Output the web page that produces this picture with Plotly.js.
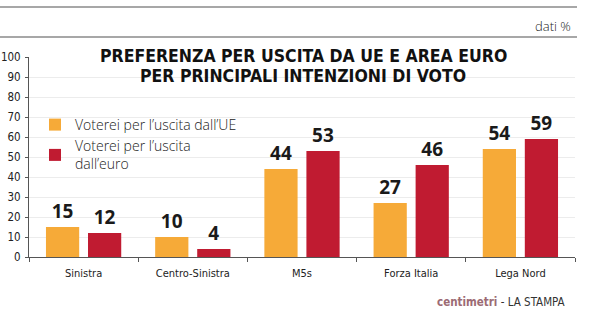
<!DOCTYPE html>
<html>
<head>
<meta charset="utf-8">
<script src="https://cdn.plot.ly/plotly-3.0.1.min.js"></script>
<style>html,body{margin:0;padding:0;background:#fff;}#chart{width:596px;height:322px;}</style>
</head>
<body>
<div id="chart"></div>
<script>
const categories = ["Sinistra", "Centro-Sinistra", "M5s", "Forza Italia", "Lega Nord"];
const seriesNames = ["Voterei per l\u2019uscita dall\u2019UE", "Voterei per l\u2019uscita<br>dall\u2019euro"];
const uscitaUE = [15, 10, 44, 27, 54];
const uscitaEuro = [12, 4, 53, 46, 59];
const yTicks = [0, 10, 20, 30, 40, 50, 60, 70, 80, 90, 100];
const titleLines = ["PREFERENZA PER USCITA DA UE E AREA EURO", "PER PRINCIPALI INTENZIONI DI VOTO"];

const condensed = "DejaVu Sans Condensed, sans-serif";
const labelFont = {family: "Open Sans, sans-serif", size: 19, color: "#1a1a1a", weight: 700};
const titleFont = {family: "DejaVu Sans Condensed, sans-serif", size: 17.5, color: "#111", weight: 700};

const traces = [
  {type: "bar", name: seriesNames[0], x: categories, y: uscitaUE,
   marker: {color: "#F6AA38"}, text: uscitaUE.map(String), textposition: "outside",
   textfont: labelFont, cliponaxis: false, hoverinfo: "none"},
  {type: "bar", name: seriesNames[1], x: categories, y: uscitaEuro,
   marker: {color: "#C01B31"}, text: uscitaEuro.map(String), textposition: "outside",
   textfont: labelFont, cliponaxis: false, hoverinfo: "none"}
];

const layout = {
  width: 596, height: 322,
  margin: {l: 29, r: 21, t: 57, b: 65},
  paper_bgcolor: "#fff", plot_bgcolor: "#fff",
  barmode: "group", bargap: 0.23, bargroupgap: 0.21,
  showlegend: true,
  legend: {x: 0.011, y: 0.74, xanchor: "left", yanchor: "top", bgcolor: "rgba(0,0,0,0)",
           font: {family: "Open Sans, sans-serif", size: 14, color: "#222", weight: 300},
           tracegroupgap: 2, itemwidth: 30},
  xaxis: {type: "category", showgrid: false, showline: true, linecolor: "#555", linewidth: 1,
          ticks: "outside", tickson: "boundaries", ticklen: 4, tickcolor: "#555", ticklabelstandoff: 6,
          tickfont: {family: condensed, size: 11, color: "#222"}, fixedrange: true},
  yaxis: {range: [0, 100], tickvals: yTicks, showgrid: true, gridcolor: "#ececec", gridwidth: 1,
          zeroline: false, showline: true, linecolor: "#555", linewidth: 1,
          ticks: "outside", ticklen: 3, tickcolor: "#555", ticklabelstandoff: 2,
          tickfont: {family: condensed, size: 11.5, color: "#222"}, fixedrange: true},
  shapes: [
    {type: "line", xref: "paper", yref: "paper", x0: -29/546, x1: 548/546, y0: 1 + 50/200, y1: 1 + 50/200,
     line: {color: "#8a8a8a", width: 1.5}},
    {type: "line", xref: "paper", yref: "paper", x0: -29/546, x1: 548/546, y0: 1 + 20/200, y1: 1 + 20/200,
     line: {color: "#8a8a8a", width: 1.5}}
  ],
  annotations: [
    {text: titleLines[0], xref: "paper", yref: "paper", x: 274/546, y: 1 + 1/200, xanchor: "center", yanchor: "middle",
     showarrow: false, borderpad: 0, font: titleFont},
    {text: titleLines[1], xref: "paper", yref: "paper", x: 274/546, y: 1 - 19/200, xanchor: "center", yanchor: "middle",
     showarrow: false, borderpad: 0, font: titleFont},
    {text: "dati %", xref: "paper", yref: "paper", x: 544/546, y: 1 + 31/200, xanchor: "right", yanchor: "middle",
     showarrow: false, font: {family: "Open Sans, sans-serif", size: 13, color: "#222", weight: 300}},
    {text: "<b>centimetri</b><span style='color:#333'> - LA STAMPA</span>", xref: "paper", yref: "paper",
     x: 538/546, y: -45/200, xanchor: "right", yanchor: "middle", showarrow: false,
     font: {family: condensed, size: 11.5, color: "#9c6b74"}}
  ]
};

Plotly.newPlot("chart", traces, layout, {displayModeBar: false, staticPlot: true});
</script>
</body>
</html>
